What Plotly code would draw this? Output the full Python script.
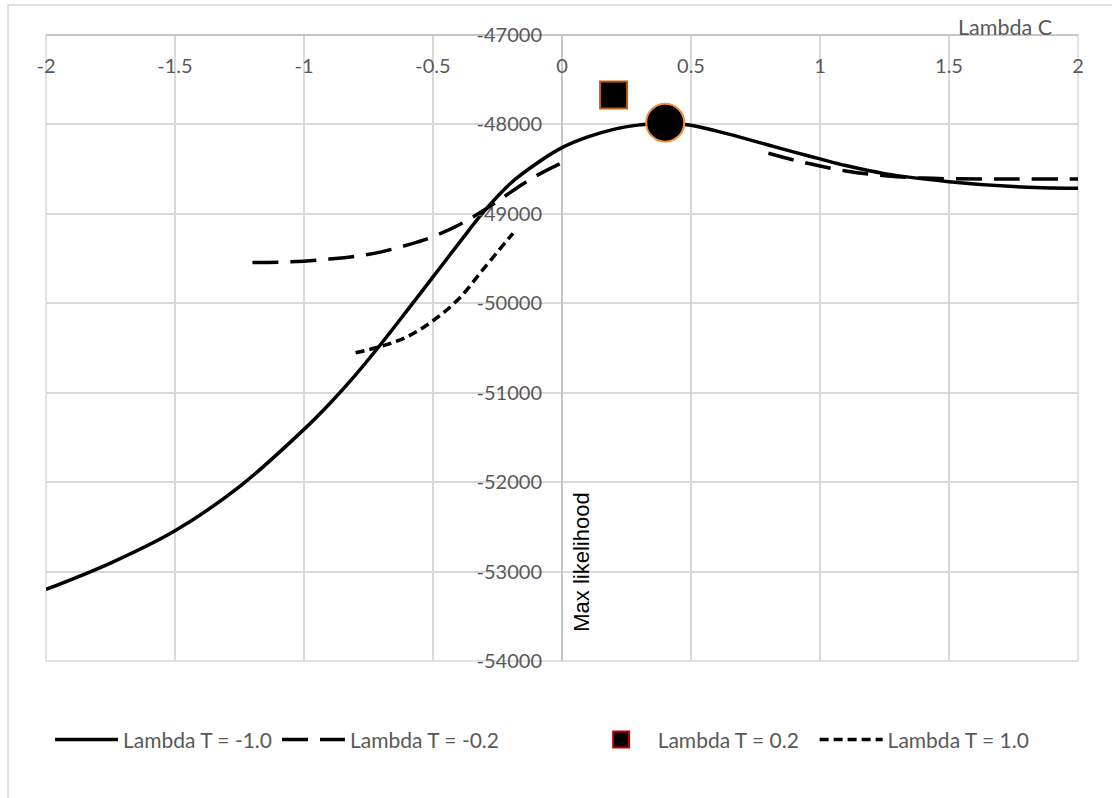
import plotly.graph_objects as go

# ---- data ----
x_t_m10 = [-2.0, -1.75, -1.5, -1.25, -1.0, -0.9, -0.8, -0.7, -0.6, -0.5, -0.4, -0.3, -0.2,
           -0.1, 0.0, 0.1, 0.2, 0.3, 0.4, 0.5, 0.6, 0.7, 0.8, 0.9, 1.0, 1.1, 1.25, 1.5,
           1.75, 2.0]
y_t_m10 = [-53200, -52905, -52544, -52050, -51410, -51120, -50800, -50450, -50080, -49705,
           -49330, -48965, -48660, -48440, -48260, -48140, -48055, -48005, -47980, -48010,
           -48075, -48150, -48230, -48310, -48385, -48460, -48550, -48640, -48695, -48715]

x_t_m02 = [-1.2, -1.1, -1.0, -0.9, -0.8, -0.7, -0.6, -0.5, -0.4, -0.3, -0.2, -0.1, 0.0, None,
           0.8, 0.9, 1.0, 1.1, 1.2, 1.3, 1.4, 1.5, 1.75, 2.0]
y_t_m02 = [-49545, -49540, -49530, -49505, -49475, -49425, -49348, -49255, -49125, -48955,
           -48760, -48575, -48428, None,
           -48323, -48400, -48465, -48520, -48560, -48585, -48600, -48607, -48610, -48610]

x_t_p02 = [0.2]
y_t_p02 = [-47670]

x_t_p10 = [-0.8, -0.7, -0.6, -0.5, -0.4, -0.3, -0.19]
y_t_p10 = [-50553, -50480, -50374, -50195, -49950, -49600, -49218]

x_max = [0.4]
y_max = [-47980]

series_names = ["Lambda T = -1.0", "Lambda T = -0.2", "Lambda T = 0.2", "Lambda T = 1.0"]

x_tick_vals = [-2, -1.5, -1, -0.5, 0, 0.5, 1, 1.5, 2]
x_tick_text = ["-2", "-1.5", "-1", "-0.5", "0", "0.5", "1", "1.5", "2"]
y_tick_vals = [-47000, -48000, -49000, -50000, -51000, -52000, -53000, -54000]
y_tick_text = ["-47000", "-48000", "-49000", "-50000", "-51000", "-52000", "-53000", "-54000"]

x_title = "Lambda C"
annot_text = "Max likelihood"

FONT = "Lato"
GRAY = "#595959"
GRID = "#D9D9D9"
AXIS = "#C6C6C6"
PAD2 = "\u00a0" * 15
PAD3 = "\u00a0" * 2

fig = go.Figure()

fig.add_trace(go.Scatter(x=x_t_m10, y=y_t_m10, mode="lines", name=series_names[0],
                         line=dict(color="black", width=3.5, shape="spline", smoothing=1.0)))
fig.add_trace(go.Scatter(x=x_t_m02, y=y_t_m02, mode="lines", name=series_names[1] + PAD2,
                         connectgaps=False,
                         line=dict(color="black", width=3.5, dash="26px,12px", shape="spline",
                                   smoothing=1.0)))
# marker in plot (no legend) + legend entry styled like Excel's legend key
fig.add_trace(go.Scatter(x=x_t_p02, y=y_t_p02, mode="markers", name=series_names[2],
                         showlegend=False,
                         marker=dict(symbol="square", size=27, color="black",
                                     line=dict(color="#C55A11", width=2))))
fig.add_trace(go.Scatter(x=[None], y=[None], mode="markers", name=series_names[2] + PAD3,
                         marker=dict(symbol="square", size=22, color="black",
                                     line=dict(color="#C00000", width=2))))
fig.add_trace(go.Scatter(x=x_t_p10, y=y_t_p10, mode="lines", name=series_names[3],
                         line=dict(color="black", width=3.5, dash="9px,5px", shape="spline",
                                   smoothing=1.0)))
fig.add_trace(go.Scatter(x=x_max, y=y_max, mode="markers", showlegend=False,
                         marker=dict(symbol="circle", size=38, color="black",
                                     line=dict(color="#F0913F", width=2))))

fig.update_layout(
    width=1112, height=798,
    margin=dict(l=46, r=34, t=35, b=137, autoexpand=False),
    paper_bgcolor="white", plot_bgcolor="white",
    font=dict(family=FONT, size=20, color=GRAY),
    showlegend=True,
    legend=dict(orientation="h", x=0.4806, xanchor="center", y=-0.126, yanchor="middle",
                font=dict(family=FONT, size=21, color=GRAY), itemwidth=63,
                bgcolor="rgba(0,0,0,0)"),
    xaxis=dict(range=[-2, 2], side="bottom", anchor="free", position=1.0,
               tickmode="array", tickvals=x_tick_vals, ticktext=x_tick_text,
               ticks="", ticklabelstandoff=13,
               showgrid=True, gridcolor=GRID, gridwidth=1.5,
               zeroline=True, zerolinecolor=AXIS, zerolinewidth=1.5,
               showline=True, linecolor=AXIS, linewidth=1.5,
               tickfont=dict(family=FONT, size=20, color=GRAY)),
    yaxis=dict(range=[-54000, -47000], tickmode="array", tickvals=y_tick_vals,
               ticktext=y_tick_text, anchor="free", position=0.5, side="left",
               showgrid=True, gridcolor=GRID, gridwidth=1.5, zeroline=False,
               showline=False, ticks="", ticklabelstandoff=20,
               tickfont=dict(family=FONT, size=20, color=GRAY)),
    annotations=[
        dict(text=x_title, xref="paper", yref="paper", x=0.929, y=1.0128,
             xanchor="center", yanchor="middle", showarrow=False,
             font=dict(family=FONT, size=21.5, color=GRAY)),
        dict(text=annot_text, xref="paper", yref="paper", x=0.5194, y=0.157,
             xanchor="center", yanchor="middle", showarrow=False, textangle=-90,
             font=dict(family="Liberation Sans", size=22, color="black")),
    ],
    shapes=[
        dict(type="rect", xref="paper", yref="paper", x0=-0.0368, y0=-0.4, x1=1.2, y1=1.0479,
             line=dict(color=GRID, width=1.5), fillcolor="rgba(0,0,0,0)", layer="below"),
        dict(type="rect", xref="paper", yref="paper", x0=0, y0=0, x1=1, y1=1,
             line=dict(color=GRID, width=1.5), fillcolor="rgba(0,0,0,0)", layer="below"),
    ],
)

fig.write_html("out.html", config={"displayModeBar": False},
               post_script="document.body.style.margin='0';")
